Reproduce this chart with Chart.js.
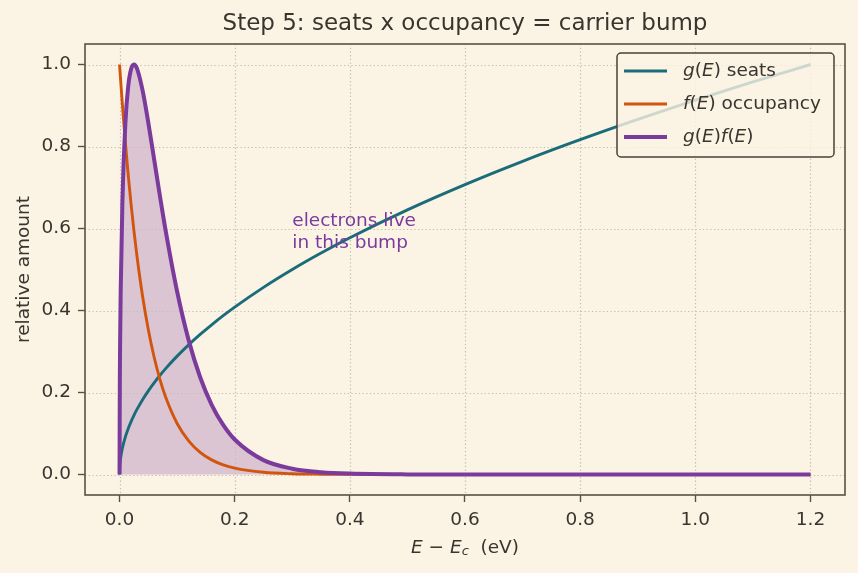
<!DOCTYPE html>
<html>
<head>
<meta charset="utf-8">
<script src="https://cdn.jsdelivr.net/npm/chart.js@4"></script>
<style>
  body { margin: 0; background: #fbf3e4; }
  canvas { display: block; }
</style>
</head>
<body>
<canvas id="bumpChart" width="858" height="573"></canvas>
<script>
// E - Ec in eV, denser near the band edge where things change fast
let energy = [0, 0.0005, 0.001, 0.002, 0.005, 0.01, 0.015, 0.02, 0.025, 0.03, 0.04, 0.05, 0.06, 0.07, 0.08,
              0.1, 0.12, 0.14, 0.16, 0.18, 0.2, 0.25, 0.3, 0.35, 0.4, 0.5, 0.6, 0.7, 0.8, 0.9, 1.0, 1.1, 1.2];
let seats = [0, 0.0204, 0.0289, 0.0408, 0.0645, 0.0913, 0.1118, 0.1291, 0.1443, 0.1581, 0.1826, 0.2041, 0.2236, 0.2415, 0.2582,
             0.2887, 0.3162, 0.3416, 0.3651, 0.3873, 0.4082, 0.4564, 0.5, 0.5401, 0.5774, 0.6455, 0.7071, 0.7638, 0.8165, 0.866, 0.9129, 0.9574, 1.0];
let occupancy = [1, 0.9896, 0.9794, 0.9592, 0.9011, 0.812, 0.7316, 0.6592, 0.594, 0.5353, 0.4346, 0.3529, 0.2865, 0.2326, 0.1889,
                 0.1245, 0.0821, 0.0541, 0.0357, 0.0235, 0.0155, 0.0055, 0.0019, 0.0007, 0.0002, 0, 0, 0, 0, 0, 0, 0, 0];
let carriers = [0, 0.2309, 0.3232, 0.448, 0.6672, 0.8538, 0.9461, 0.9885, 1.0, 0.9912, 0.9371, 0.8578, 0.7693, 0.6804, 0.5955,
                0.4463, 0.3277, 0.2373, 0.17, 0.1209, 0.0854, 0.0351, 0.0142, 0.0056, 0.0022, 0.0003, 0, 0, 0, 0, 0, 0, 0];
let xTicks = [0, 0.2, 0.4, 0.6, 0.8, 1.0, 1.2];
let yTicks = [0, 0.2, 0.4, 0.6, 0.8, 1.0];

const bg = "#fbf3e4", ink = "#3a342e", frameColor = "#5a5046", gridColor = "#c6bdae";
const teal = "#1a6c7a", orange = "#d2550e", purple = "#7a3b9c";
const fam = "DejaVu Sans";

function points(ys) {
    return energy.map((e, i) => ({x: e, y: ys[i]}));
}

// mixed upright / italic / subscript text, like matplotlib mathtext
function runFont(r, size) {
    let s = r.sub ? size * 0.7 : size;
    return (r.it ? "italic " : "") + s + "px '" + fam + "'";
}
function runsWidth(ctx, runs, size) {
    let w = 0;
    for (const r of runs) { ctx.font = runFont(r, size); w += ctx.measureText(r.t).width; }
    return w;
}
function drawRuns(ctx, runs, x, y, size) {
    ctx.textAlign = "left";
    ctx.textBaseline = "middle";
    for (const r of runs) {
        ctx.font = runFont(r, size);
        ctx.fillText(r.t, x, r.sub ? y + size * 0.22 : y);
        x += ctx.measureText(r.t).width;
    }
}

const decor = {
    id: "decor",
    beforeDraw(chart) {
        const ctx = chart.ctx;
        ctx.save();
        ctx.fillStyle = bg;
        ctx.fillRect(0, 0, chart.width, chart.height);
        ctx.restore();
    },
    beforeDatasetsDraw(chart) {
        const {ctx, chartArea: a, scales} = chart;
        ctx.save();
        ctx.strokeStyle = gridColor;
        ctx.lineWidth = 1.2;
        ctx.setLineDash([1.3, 2.4]);
        for (const v of xTicks) {
            const px = Math.round(scales.x.getPixelForValue(v)) + 0.5;
            ctx.beginPath(); ctx.moveTo(px, a.top); ctx.lineTo(px, a.bottom); ctx.stroke();
        }
        for (const v of yTicks) {
            const py = Math.round(scales.y.getPixelForValue(v)) + 0.5;
            ctx.beginPath(); ctx.moveTo(a.left, py); ctx.lineTo(a.right, py); ctx.stroke();
        }
        ctx.restore();
    },
    afterDatasetsDraw(chart) {
        const {ctx, chartArea: a} = chart;
        ctx.save();

        // annotation
        ctx.fillStyle = purple;
        ctx.font = "18.5px '" + fam + "'";
        ctx.textAlign = "left";
        ctx.textBaseline = "middle";
        const ax = chart.scales.x.getPixelForValue(0.3);
        ctx.fillText("electrons live", ax, 221);
        ctx.fillText("in this bump", ax, 243);

        // frame
        ctx.strokeStyle = frameColor;
        ctx.lineWidth = 1.6;
        ctx.strokeRect(a.left, a.top, a.right - a.left, a.bottom - a.top);

        // legend
        const lx = 617, ly = 53, lw = 217, lh = 104;
        ctx.beginPath();
        ctx.roundRect(lx, ly, lw, lh, 4);
        ctx.fillStyle = "rgba(251,243,228,0.8)";
        ctx.fill();
        ctx.strokeStyle = "#4a4038";
        ctx.lineWidth = 1.5;
        ctx.stroke();
        const entries = [
            {color: teal, width: 3, runs: [{t: "g", it: true}, {t: "("}, {t: "E", it: true}, {t: ") seats"}]},
            {color: orange, width: 3, runs: [{t: "f", it: true}, {t: "("}, {t: "E", it: true}, {t: ") occupancy"}]},
            {color: purple, width: 4, runs: [{t: "g", it: true}, {t: "("}, {t: "E", it: true}, {t: ")"},
                                              {t: "f", it: true}, {t: "("}, {t: "E", it: true}, {t: ")"}]}
        ];
        entries.forEach((en, i) => {
            const y = 71 + i * 33;
            ctx.strokeStyle = en.color;
            ctx.lineWidth = en.width;
            ctx.beginPath(); ctx.moveTo(624, y); ctx.lineTo(667, y); ctx.stroke();
            ctx.fillStyle = ink;
            drawRuns(ctx, en.runs, 683, y, 18.5);
        });

        // title
        ctx.fillStyle = ink;
        ctx.font = "23px '" + fam + "'";
        ctx.textAlign = "center";
        ctx.textBaseline = "middle";
        ctx.fillText("Step 5: seats x occupancy = carrier bump", (a.left + a.right) / 2, 24);

        // x title
        const xr = [{t: "E", it: true}, {t: " \u2212 "}, {t: "E", it: true}, {t: "c", it: true, sub: true}, {t: "  (eV)"}];
        const xw = runsWidth(ctx, xr, 18.5);
        drawRuns(ctx, xr, (a.left + a.right) / 2 - xw / 2, 548, 18.5);

        // y title
        ctx.translate(24, (a.top + a.bottom) / 2);
        ctx.rotate(-Math.PI / 2);
        ctx.font = "18.5px '" + fam + "'";
        ctx.textAlign = "center";
        ctx.fillText("relative amount", 0, 0);
        ctx.restore();
    }
};

const tickFont = {family: fam, size: 18.5};

new Chart("bumpChart", {
    type: "line",
    data: {
        datasets: [
            {
                data: points(seats),
                borderColor: teal,
                borderWidth: 2.9,
                pointRadius: 0,
                cubicInterpolationMode: "monotone",
                fill: false,
                order: 3
            },
            {
                data: points(occupancy),
                borderColor: orange,
                borderWidth: 2.9,
                pointRadius: 0,
                cubicInterpolationMode: "monotone",
                fill: false,
                order: 2
            },
            {
                data: points(carriers),
                borderColor: purple,
                borderWidth: 4,
                pointRadius: 0,
                cubicInterpolationMode: "monotone",
                fill: "origin",
                backgroundColor: "rgba(122,59,156,0.25)",
                order: 1
            }
        ]
    },
    options: {
        responsive: false,
        animation: false,
        devicePixelRatio: 1,
        layout: {padding: {top: 44, right: 13, left: 0, bottom: 0}},
        plugins: {
            legend: {display: false},
            title: {display: false},
            tooltip: {enabled: false},
            filler: {drawTime: "beforeDatasetsDraw"}
        },
        scales: {
            x: {
                type: "linear",
                min: -0.06,
                max: 1.26,
                afterFit(s) { s.height = 78; },
                afterBuildTicks(s) { s.ticks = xTicks.map(v => ({value: v})); },
                grid: {drawOnChartArea: false, drawTicks: true, tickLength: 7, tickColor: frameColor, tickWidth: 1.4},
                border: {display: false},
                ticks: {font: tickFont, color: ink, padding: 7, maxRotation: 0, callback: v => v.toFixed(1)}
            },
            y: {
                type: "linear",
                min: -0.05,
                max: 1.05,
                afterFit(s) { s.width = 85; },
                afterBuildTicks(s) { s.ticks = yTicks.map(v => ({value: v})); },
                grid: {drawOnChartArea: false, drawTicks: true, tickLength: 7, tickColor: frameColor, tickWidth: 1.4},
                border: {display: false},
                ticks: {font: tickFont, color: ink, padding: 7, callback: v => v.toFixed(1)}
            }
        }
    },
    plugins: [decor]
});
</script>
</body>
</html>
